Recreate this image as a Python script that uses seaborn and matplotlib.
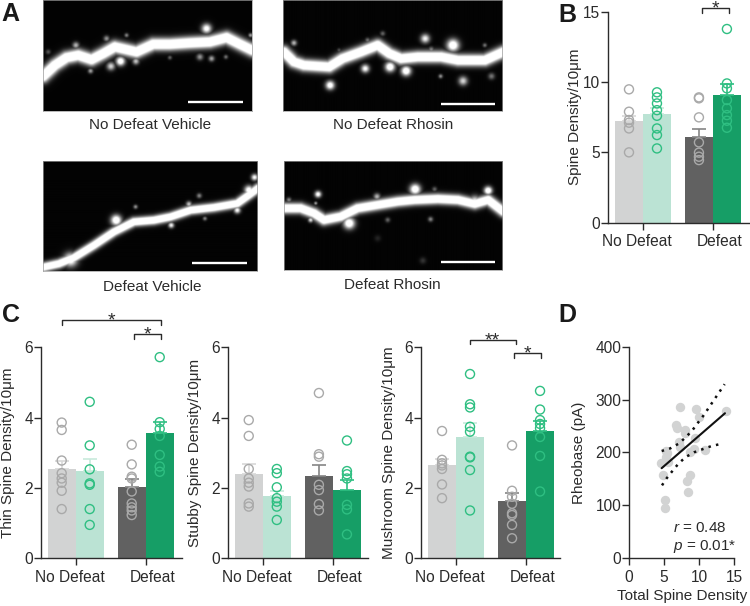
import numpy as np
import pandas as pd
import matplotlib
matplotlib.use('Agg')
import matplotlib.pyplot as plt
from matplotlib.transforms import ScaledTranslation
import seaborn as sns

# Grupos e tratamentos
groups = ['No Defeat', 'Defeat']
treatments = ['Vehicle', 'Rhosin']
palette = {'Vehicle': '#a9a9a9', 'Rhosin': '#2fbf82'}
bar_colors = ['#d2d3d3', '#bbe3d4', '#616161', '#169e66']
err_colors = ['#d8d8d8', '#c8eadc', '#858585', '#2fbf82']
line_color = '#2b2b2b'

# Painel B: densidade total
total_means = [7.25, 7.7, 6.11, 9.08]
total_sem = [0.35, 0.43, 0.52, 0.75]
total_points = [
    [9.48, 7.89, 7.3, 7.11, 6.7, 5.0],
    [9.27, 8.91, 8.48, 8.0, 7.6, 6.7, 6.23, 5.28],
    [8.91, 8.84, 7.49, 5.71, 4.98, 4.69, 4.45],
    [13.77, 9.9, 9.55, 8.72, 8.13, 7.65, 7.25, 6.75],
]

# Painel C: thin, stubby, mushroom
thin_means = [2.53, 2.47, 2.04, 3.55]
thin_sem = [0.25, 0.35, 0.21, 0.34]
thin_points = [
    [3.86, 3.65, 2.78, 2.42, 2.27, 2.15, 1.92, 1.40],
    [4.45, 3.21, 2.53, 2.13, 2.09, 1.40, 0.95],
    [3.23, 2.67, 2.32, 2.27, 1.90, 1.56, 1.45, 1.36, 1.23],
    [5.72, 3.87, 3.68, 3.48, 2.94, 2.61, 2.46],
]
stubby_means = [2.41, 1.78, 2.35, 1.94]
stubby_sem = [0.26, 0.14, 0.29, 0.29]
stubby_points = [
    [3.93, 3.48, 2.54, 2.27, 2.15, 2.04, 1.56, 1.47],
    [2.54, 2.42, 2.02, 1.71, 1.61, 1.47, 1.09],
    [4.70, 2.96, 2.89, 2.09, 1.94, 1.54, 1.36],
    [3.35, 2.48, 2.39, 2.27, 1.52, 1.39, 0.68],
]
mushroom_means = [2.64, 3.45, 1.64, 3.61]
mushroom_sem = [0.18, 0.39, 0.23, 0.30]
mushroom_points = [
    [3.62, 2.80, 2.70, 2.64, 2.54, 2.10, 1.71],
    [5.24, 4.38, 4.29, 3.74, 3.60, 2.89, 2.87, 2.51, 1.36],
    [3.21, 1.92, 1.75, 1.55, 1.28, 1.23, 0.95, 0.57],
    [4.76, 4.23, 3.93, 3.82, 3.70, 3.45, 2.91, 1.90],
]

# Painel D: correlação
density = [5.13, 5.17, 8.45, 8.21, 8.69, 4.89, 4.56, 5.6, 5.22, 5.22, 7.21, 9.54, 13.76,
           9.92, 6.69, 6.79, 7.97, 7.93, 7.17, 9.4, 7.26, 9.25, 10.82, 8.69, 5.36]
rheobase = [95, 110, 124, 146, 158, 157, 180, 181, 192, 203, 285, 282, 279,
            266, 252, 247, 242, 236, 220, 228, 211, 206, 204, 201, 198]
fit_x = [4.65, 13.67]
fit_y = [170, 274]
upper_x = [4.65, 5.89, 7.07, 8.07, 9.02, 9.82, 10.63, 11.39, 12.15, 12.91, 13.62]
upper_y = [202.5, 207.6, 216.4, 228.4, 241.6, 256, 270, 285, 300, 315, 329]
lower_x = [4.7, 5.36, 6.22, 7.07, 8.07, 9.25, 10.49, 11.77, 13.1]
lower_y = [137.5, 150.8, 165.3, 179, 191, 200, 206, 212, 216]

# Painel A: dendritos (x, y) e espinhas (x, y, raio, brilho) na micrografia
dend_nv = [(130, 228), (165, 195), (200, 172), (235, 165), (275, 178), (310, 160), (345, 140), (410, 155),
           (460, 132), (510, 132), (570, 128), (630, 125), (680, 112), (720, 132), (757, 150)]
spines_nv = [(620, 85, 12, 0.85), (228, 135, 8, 0.55), (145, 155, 6, 0.25), (320, 115, 7, 0.45), (380, 105, 5, 0.4),
             (362, 183, 11, 0.95), (333, 198, 10, 0.65), (272, 212, 6, 0.5), (408, 183, 8, 0.6), (510, 172, 5, 0.3),
             (600, 170, 8, 0.45), (635, 175, 7, 0.5), (678, 170, 5, 0.35), (752, 105, 5, 0.5), (345, 128, 7, 0.7)]
dend_dv = [(130, 800), (175, 790), (220, 772), (280, 735), (340, 695), (400, 665), (460, 660), (510, 650),
           (570, 630), (640, 622), (710, 610), (745, 585), (772, 565)]
spines_dv = [(347, 660, 13, 1.0), (405, 620, 5, 0.45), (762, 532, 8, 0.8), (596, 587, 6, 0.4), (565, 612, 7, 0.6),
             (512, 675, 7, 0.75), (613, 655, 5, 0.4), (710, 630, 8, 0.8), (745, 570, 11, 0.9), (210, 778, 17, 0.9)]
dend_nr = [(40, 155), (70, 185), (100, 195), (175, 200), (215, 175), (270, 155), (320, 135), (355, 160),
           (390, 175), (440, 170), (510, 170), (560, 180), (640, 180), (695, 155)]
spines_nr = [(178, 255, 11, 0.9), (283, 205, 10, 0.8), (357, 200, 12, 1.0), (405, 212, 12, 1.0), (462, 115, 11, 0.75),
             (545, 135, 15, 1.0), (575, 242, 11, 0.65), (70, 128, 7, 0.55), (290, 120, 6, 0.35), (335, 100, 6, 0.3),
             (660, 228, 8, 0.35), (508, 228, 5, 0.45), (640, 135, 5, 0.35), (205, 150, 5, 0.25), (480, 148, 7, 0.4)]
dend_dr = [(40, 625), (90, 625), (130, 640), (160, 660), (210, 650), (260, 625), (320, 615), (380, 605),
           (430, 600), (500, 597), (560, 600), (610, 612), (650, 600), (695, 635)]
spines_dr = [(142, 583, 8, 0.85), (235, 670, 14, 1.0), (432, 568, 13, 1.0), (318, 590, 8, 0.55), (650, 572, 10, 1.0),
             (120, 660, 6, 0.7), (478, 658, 6, 0.4), (490, 568, 6, 0.3), (350, 660, 6, 0.3), (55, 600, 6, 0.4),
             (610, 605, 14, 0.8), (135, 610, 4, 0.5), (455, 782, 8, 0.15), (320, 715, 8, 0.1)]

sns.set_style('ticks')
plt.rcParams['font.family'] = ['Liberation Sans', 'DejaVu Sans']
plt.rcParams['mathtext.fontset'] = 'custom'
plt.rcParams['mathtext.it'] = 'Liberation Sans:italic'
plt.rcParams['mathtext.rm'] = 'Liberation Sans'
plt.rcParams['text.color'] = line_color
plt.rcParams['axes.labelcolor'] = line_color
plt.rcParams['xtick.labelcolor'] = line_color
plt.rcParams['ytick.labelcolor'] = line_color

W, H = 750, 606
fig = plt.figure(figsize=(7.5, 6.06), dpi=100)


def px_axes(left, top, right, bottom):
    return fig.add_axes([left / W, 1 - bottom / H, (right - left) / W, (bottom - top) / H])


def long_table(points):
    rows = []
    for i, vals in enumerate(points):
        for v in vals:
            rows.append({'group': groups[i // 2], 'treatment': treatments[i % 2], 'value': v})
    return pd.DataFrame(rows)


def style_axes(ax):
    sns.despine(ax=ax)
    for s in ['left', 'bottom']:
        ax.spines[s].set_linewidth(1.0)
        ax.spines[s].set_color(line_color)
    ax.tick_params(axis='both', length=4.8, width=1.0, color=line_color, labelsize=11.2)
    ax.tick_params(axis='y', pad=0.8)
    ax.tick_params(axis='x', pad=3.5)
    ax.patch.set_alpha(0)


def bar_panel(box, means, sem, points, ylabel, ymax, ticks, xright, label_x):
    ax = px_axes(*box)
    means_df = pd.DataFrame({
        'group': [groups[i // 2] for i in range(4)],
        'treatment': [treatments[i % 2] for i in range(4)],
        'value': means,
    })
    sns.barplot(data=means_df, x='group', y='value', hue='treatment', order=groups, hue_order=treatments,
                errorbar=None, width=0.8, gap=0, saturation=1, legend=False, ax=ax)
    bars = sorted(ax.patches, key=lambda p: p.get_x())
    for bar, c in zip(bars, bar_colors):
        bar.set_facecolor(c)
        bar.set_edgecolor('none')
    for bar, e, c in zip(bars, sem, err_colors):
        ax.errorbar(bar.get_x() + bar.get_width() / 2, bar.get_height(), yerr=[[0], [e]], fmt='none', ecolor=c,
                    elinewidth=1.2, capsize=4.7, capthick=1.2, zorder=4)

    sns.stripplot(data=long_table(points), x='group', y='value', hue='treatment', order=groups,
                  hue_order=treatments, dodge=True, jitter=False, palette=palette, size=6.5,
                  legend=False, zorder=5, ax=ax)
    # Círculos vazados
    for coll in ax.collections:
        if len(coll.get_offsets()) == 0 or len(coll.get_facecolor()) == 0:
            continue
        coll.set_edgecolor(coll.get_facecolor())
        coll.set_facecolor('none')
        coll.set_linewidth(1.0)
        coll.set_clip_on(False)

    ax.set_xlim(-0.5, xright)
    ax.set_ylim(0, ymax)
    ax.set_yticks(ticks)
    ax.set_xlabel('')
    ax.set_ylabel(ylabel, fontsize=11)
    ax.yaxis.set_label_coords((label_x + 7 - box[0]) / (box[2] - box[0]), 0.5)
    style_axes(ax)
    # Rótulos deslocados em relação aos ticks
    for lab, dx in zip(ax.get_xticklabels(), [-6, 6.5]):
        lab.set_transform(lab.get_transform() + ScaledTranslation(dx / 100, 0, fig.dpi_scale_trans))
    return ax


def bracket(ax, x0, x1, y, drop, stars):
    ax.plot([x0, x0, x1, x1], [y - drop, y, y, y - drop], color=line_color, lw=1.0, clip_on=False)
    ax.annotate(stars, xy=((x0 + x1) / 2, y), xytext=(0, 5.3), textcoords='offset points',
                ha='center', va='top', fontsize=14, annotation_clip=False)


def micrograph(box, crop, path, spines, scale, width=13):
    ax = px_axes(*box)
    xx, yy = np.meshgrid(np.arange(crop[0], crop[1], 1.5), np.arange(crop[2], crop[3], 1.5))
    # Distância até o dendrito
    dist = np.full(xx.shape, 1e6)
    for (x0, y0), (x1, y1) in zip(path[:-1], path[1:]):
        dx, dy = x1 - x0, y1 - y0
        t = np.clip(((xx - x0) * dx + (yy - y0) * dy) / (dx * dx + dy * dy), 0, 1)
        dist = np.minimum(dist, np.hypot(xx - (x0 + t * dx), yy - (y0 + t * dy)))
    img = np.clip(1.5 * np.exp(-(dist / width) ** 2), 0, 1)
    for sx, sy, r, level in spines:
        r = r * 1.2
        img = np.maximum(img, np.clip(1.3 * level * np.exp(-((xx - sx) ** 2 + (yy - sy) ** 2) / r ** 2), 0, 1))
    ax.imshow(img, cmap='gray', vmin=-0.015, vmax=1, aspect='auto', interpolation='bilinear',
              extent=(crop[0], crop[1], crop[3], crop[2]))
    ax.plot(scale[:2], [scale[2], scale[2]], color='white', lw=1.7, solid_capstyle='butt')
    ax.set_xlim(crop[0], crop[1])
    ax.set_ylim(crop[3], crop[2])
    ax.set_xticks([])
    ax.set_yticks([])
    for s in ax.spines.values():
        s.set_color('#9a9a9a')
        s.set_linewidth(0.5)


# Painel A
micrograph((43.3, 0, 252.3, 110.7), (130, 757, 0, 332), dend_nv, spines_nv, (565, 730, 307), 18)
micrograph((42.7, 161.3, 257.3, 270.7), (128, 772, 484, 812), dend_dv, spines_dv, (577, 740, 788), 13)
micrograph((282.7, 0, 501.7, 111), (38, 695, 0, 332), dend_nr, spines_nr, (512, 675, 310), 17)
micrograph((283.7, 161, 501.7, 270), (41, 695, 484, 810), dend_dr, spines_dr, (512, 675, 787), 15)
for txt, x, y in [('No Defeat Vehicle', 150.3, 125), ('Defeat Vehicle', 152, 286.7),
                  ('No Defeat Rhosin', 393, 125), ('Defeat Rhosin', 392.8, 285)]:
    fig.text(x / W, 1 - y / H, txt, ha='center', va='center', fontsize=11)

# Painel B
ax_b = bar_panel((608, 11.7, 750, 222.7), total_means, total_sem, total_points, 'Spine Density/10μm',
                 15, [0, 5, 10, 15], 1.53, 575)
bracket(ax_b, 0.84, 1.23, 15.24, 0.35, '*')

# Painel C
ax_thin = bar_panel((40.7, 347.3, 181.7, 558.3), thin_means, thin_sem, thin_points, 'Thin Spine Density/10μm',
                    6, [0, 2, 4, 6], 1.514, 8.3)
bracket(ax_thin, -0.2, 1.22, 6.78, 0.14, '*')
bracket(ax_thin, 0.83, 1.22, 6.37, 0.14, '*')
ax_stubby = bar_panel((227.7, 347.3, 368, 558.3), stubby_means, stubby_sem, stubby_points,
                      'Stubby Spine Density/10μm', 6, [0, 2, 4, 6], 1.5, 195)
ax_mush = bar_panel((421, 347.3, 560, 558.3), mushroom_means, mushroom_sem, mushroom_points,
                    'Mushroom Spine Density/10μm', 6, [0, 2, 4, 6], 1.485, 389)
bracket(ax_mush, 0.2, 0.85, 6.22, 0.14, '**')
bracket(ax_mush, 0.83, 1.22, 5.83, 0.14, '*')

# Painel D
ax_d = px_axes(629, 346.7, 734.3, 558)
sns.scatterplot(x=density, y=rheobase, color='#d2d3d3', s=46, linewidth=0, clip_on=False, ax=ax_d)
sns.lineplot(x=fit_x, y=fit_y, color='#111111', lw=1.5, errorbar=None, ax=ax_d)
for bx, by in [(upper_x, upper_y), (lower_x, lower_y)]:
    sns.lineplot(x=bx, y=by, color='#111111', lw=1.8, errorbar=None, linestyle=(0, (1, 2.1)), ax=ax_d)
ax_d.set_xlim(0, 15)
ax_d.set_ylim(0, 400)
ax_d.set_xticks([0, 5, 10, 15])
ax_d.set_yticks([0, 100, 200, 300, 400])
ax_d.set_xlabel('Total Spine Density', fontsize=11)
ax_d.set_ylabel('Rheobase (pA)', fontsize=11)
ax_d.yaxis.set_label_coords((579 + 7 - 629) / 105.3, 0.5)
ax_d.xaxis.set_label_coords(0.5, -0.145)
style_axes(ax_d)
ax_d.text(0.415, 0.142, '$r$ = 0.48', transform=ax_d.transAxes, fontsize=11, va='center')
ax_d.text(0.415, 0.053, '$p$ = 0.01*', transform=ax_d.transAxes, fontsize=11, va='center')

# Letras dos painéis
for letter, x, y in [('A', 1, 14), ('B', 558, 14.5), ('C', 2, 314.5), ('D', 558, 315)]:
    fig.text(x / W, 1 - y / H, letter, fontsize=18, fontweight='bold', color='#1a1a1a', ha='left', va='center')

plt.savefig('out.png', dpi=100)
